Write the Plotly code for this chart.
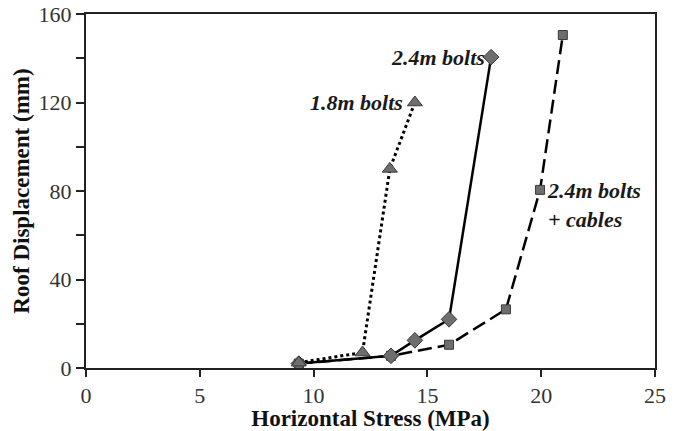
import plotly.graph_objects as go

# Data
x_18 = [9.35, 12.15, 13.35, 14.45]
y_18 = [2.4, 7.0, 90, 120]

x_24 = [9.35, 13.4, 14.45, 15.95, 17.8]
y_24 = [2.0, 5.5, 12.5, 22, 140.5]

x_24c = [9.35, 13.4, 15.95, 18.45, 19.95, 20.95]
y_24c = [2.0, 5.5, 10.5, 26.5, 80.5, 150.5]

x_ticks = [0, 5, 10, 15, 20, 25]
y_ticks = [0, 40, 80, 120, 160]

SERIF = "Liberation Serif"
MK = "#6e6e6e"
MKL = "#3a3a3a"

fig = go.Figure()
fig.add_trace(go.Scatter(
    x=x_24c, y=y_24c, mode="lines+markers", name="2.4m bolts + cables",
    line=dict(color="black", width=2.5, dash="14px,6px"),
    marker=dict(symbol="square", size=9, color=MK, line=dict(color=MKL, width=1))))
fig.add_trace(go.Scatter(
    x=x_24, y=y_24, mode="lines+markers", name="2.4m bolts",
    line=dict(color="black", width=2.5),
    marker=dict(symbol="diamond", size=12, color=MK, line=dict(color=MKL, width=1))))
fig.add_trace(go.Scatter(
    x=x_18, y=y_18, mode="lines+markers", name="1.8m bolts",
    line=dict(color="black", width=3, dash="dot"),
    marker=dict(symbol="triangle-up", size=13, color=MK, line=dict(color=MKL, width=1))))

ann_font = dict(family=SERIF, size=22, color="#1a1a1a")
fig.add_annotation(x=x_18[3], y=y_18[3], text="<b><i>1.8m bolts</i></b>", showarrow=False,
                   xanchor="right", yanchor="middle", xshift=-10, font=ann_font)
fig.add_annotation(x=x_24[4], y=y_24[4], text="<b><i>2.4m bolts</i></b>", showarrow=False,
                   xanchor="right", yanchor="middle", xshift=-4, font=ann_font)
fig.add_annotation(x=x_24c[4], y=y_24c[4], text="<b><i>2.4m bolts<br>+ cables</i></b>", showarrow=False,
                   xanchor="left", yanchor="top", xshift=5, yshift=14, align="left", font=ann_font)

fig.update_layout(
    width=678, height=431,
    margin=dict(l=86, r=23, t=14, b=63),
    paper_bgcolor="white", plot_bgcolor="white",
    showlegend=False,
    font=dict(family=SERIF, color="#222"),
)
fig.update_xaxes(
    range=[0, 25], tickvals=x_ticks, ticks="outside", ticklen=7, tickwidth=1.5,
    tickcolor="#222", showline=True, linecolor="#222", linewidth=2, mirror=True,
    showgrid=False, zeroline=False, automargin=False,
    tickfont=dict(family=SERIF, size=22, color="#333"),
    title=dict(text="<b>Horizontal Stress (MPa)</b>", font=dict(family=SERIF, size=23, color="#111"), standoff=1),
)
fig.update_yaxes(
    range=[0, 160], tickvals=y_ticks, ticks="outside", ticklen=8, tickwidth=1.5,
    tickcolor="#222", showline=True, linecolor="#222", linewidth=2, mirror=True,
    showgrid=False, zeroline=False, automargin=False,
    tickfont=dict(family=SERIF, size=22, color="#333"),
    minor=dict(dtick=20, ticks="outside", ticklen=8, tickcolor="#222", tickwidth=1.5),
    title=dict(text="<b>Roof Displacement (mm)</b>", font=dict(family=SERIF, size=23, color="#111"), standoff=3),
)

fig.write_html("out.html", config={"displayModeBar": False},
               post_script="document.body.style.margin='0';document.body.style.padding='0';")
